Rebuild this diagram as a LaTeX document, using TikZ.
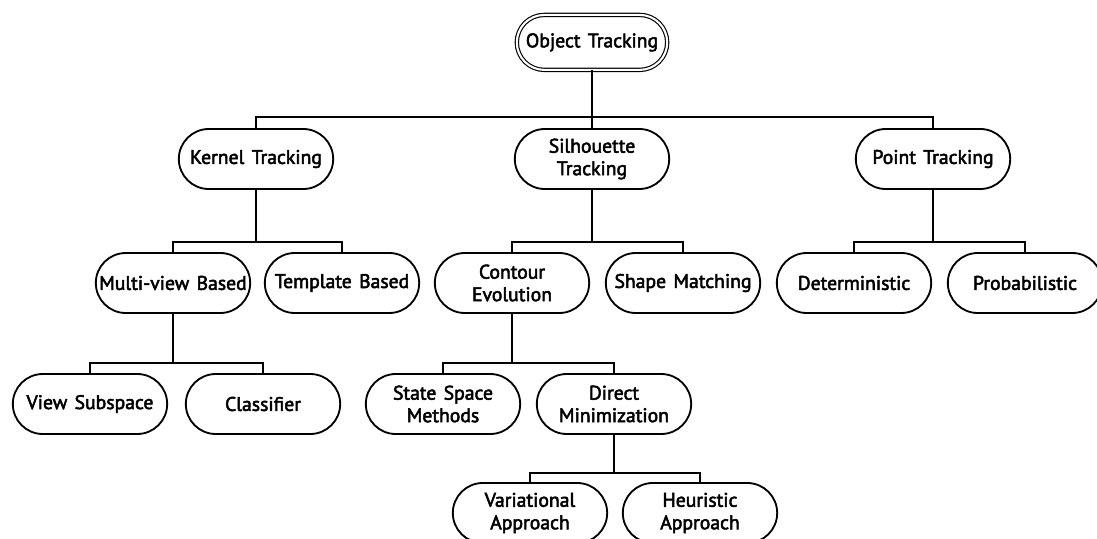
\documentclass[tikz,border=0pt]{standalone}
\usepackage{fontspec}
\setmainfont{PT Sans}
\newfontfamily\boxfont[FakeBold=2.6,WordSpace=1.4]{PT Sans}
\usetikzlibrary{shapes.misc}
\begin{document}
\begin{tikzpicture}[
  leaf/.style={rounded rectangle,draw,line width=1.3pt,minimum width=4cm,minimum height=1.5cm,
    inner sep=2pt,align=center,font=\boxfont\fontsize{14}{16}\selectfont},
  top/.style={leaf,double,line width=0.8pt,double distance=1.5pt,minimum width=3.9cm,minimum height=1.375cm},
  link/.style={line width=1.3pt}]
\useasboundingbox (0,0) rectangle (27.425,-13.45);
\begin{scope}
\clip (0,0) rectangle (27.425,-13.45);
\node [top] (root) at (14.8,-1.06) {Object Tracking};
\node [leaf] (kern) at (6.4,-3.975) {Kernel Tracking};
\node [leaf] (sil) at (14.8,-3.975) {Silhouette\\Tracking};
\node [leaf] (pt) at (23.325,-3.975) {Point Tracking};
\node [leaf] (mv) at (4.325,-7.075) {Multi-view Based};
\node [leaf] (tb) at (8.55,-7.075) {Template Based};
\node [leaf] (ce) at (12.8,-7.075) {Contour\\Evolution};
\node [leaf] (sm) at (17.075,-7.075) {Shape Matching};
\node [leaf] (det) at (21.35,-7.075) {Deterministic};
\node [leaf] (prob) at (25.625,-7.075) {Probabilistic};
\node [leaf] (vs) at (2.25,-10.1) {View Subspace};
\node [leaf] (cls) at (6.575,-10.1) {Classifier};
\node [leaf] (ssm) at (11.075,-10.1) {State Space\\Methods};
\node [leaf] (dm) at (15.35,-10.1) {Direct\\Minimization};
\node [leaf] (var) at (13.25,-12.825) {Variational\\Approach};
\node [leaf] (heu) at (17.5,-12.825) {Heuristic\\Approach};
\coordinate (b1) at (root.south |- 0,-2.925);
\coordinate (b2) at (kern.south |- 0,-6.05);
\coordinate (b3) at (sil.south |- 0,-6.05);
\coordinate (b4) at (pt.south |- 0,-6.05);
\coordinate (b5) at (mv.south |- 0,-9.075);
\coordinate (b6) at (ce.south |- 0,-9.075);
\coordinate (b7) at (dm.south |- 0,-11.825);
\draw [link] (root.south) -- (sil.north);
\draw [link] (kern.north) |- (b1) -| (pt.north);
\draw [link] (kern.south) -- (b2);
\draw [link] (mv.north) |- (b2) -| (tb.north);
\draw [link] (sil.south) -- (b3);
\draw [link] (ce.north) |- (b3) -| (sm.north);
\draw [link] (pt.south) -- (b4);
\draw [link] (det.north) |- (b4) -| (prob.north);
\draw [link] (mv.south) -- (b5);
\draw [link] (vs.north) |- (b5) -| (cls.north);
\draw [link] (ce.south) -- (b6);
\draw [link] (ssm.north) |- (b6) -| (dm.north);
\draw [link] (dm.south) -- (b7);
\draw [link] (var.north) |- (b7) -| (heu.north);
\end{scope}
\end{tikzpicture}
\end{document}
